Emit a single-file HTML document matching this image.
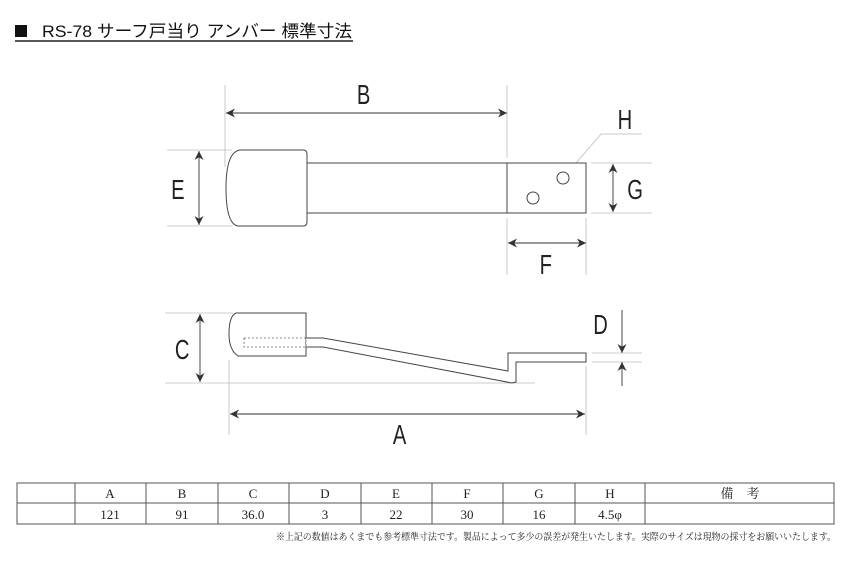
<!DOCTYPE html>
<html><head><meta charset="utf-8"><style>
html,body{margin:0;padding:0;background:#fff;width:850px;height:567px;overflow:hidden}
</style></head><body>
<svg width="850" height="567" viewBox="0 0 850 567" xmlns="http://www.w3.org/2000/svg">
<defs>
<marker id="ar" viewBox="0 0 10 10" refX="10" refY="5" markerWidth="9" markerHeight="9" orient="auto-start-reverse" markerUnits="userSpaceOnUse">
<path d="M0,0 L10,5 L0,10 L3,5 Z" fill="#333"/></marker>
</defs>
<rect x="15" y="25" width="12" height="12" fill="#111"/>
<text x="42" y="37" textLength="310" lengthAdjust="spacingAndGlyphs" font-family="'Liberation Sans','Noto Sans CJK JP',sans-serif" font-size="17" fill="#111">RS-78 サーフ戸当り アンバー 標準寸法</text>
<line x1="15" y1="41" x2="353" y2="41" stroke="#222" stroke-width="1.5"/>
<g stroke="#bbb" stroke-width="0.8" fill="none">
<line x1="225" y1="85" x2="225" y2="167"/><line x1="507" y1="85" x2="507" y2="158"/>
<line x1="167" y1="150" x2="232" y2="150"/><line x1="167" y1="226" x2="232" y2="226"/>
<line x1="591" y1="163" x2="652" y2="163"/><line x1="591" y1="213" x2="652" y2="213"/>
<line x1="507" y1="218" x2="507" y2="275"/><line x1="586" y1="218" x2="586" y2="275"/>
<polyline points="563,178 601,134 642,134"/>
<line x1="165" y1="313" x2="233" y2="313"/><line x1="165" y1="383" x2="535" y2="383"/>
<line x1="229" y1="360" x2="229" y2="435"/><line x1="586" y1="366" x2="586" y2="435"/>
<line x1="592" y1="353" x2="642" y2="353"/><line x1="592" y1="362" x2="642" y2="362"/>
</g>
<g stroke="#333" stroke-width="0.9" fill="none">
<line x1="226" y1="113" x2="507" y2="113" marker-start="url(#ar)" marker-end="url(#ar)"/>
<line x1="199" y1="151" x2="199" y2="225" marker-start="url(#ar)" marker-end="url(#ar)"/>
<line x1="613" y1="164" x2="613" y2="212" marker-start="url(#ar)" marker-end="url(#ar)"/>
<line x1="508" y1="243" x2="586" y2="243" marker-start="url(#ar)" marker-end="url(#ar)"/>
<line x1="200" y1="314" x2="200" y2="382" marker-start="url(#ar)" marker-end="url(#ar)"/>
<line x1="230" y1="414" x2="585" y2="414" marker-start="url(#ar)" marker-end="url(#ar)"/>
<line x1="622" y1="310" x2="622" y2="353" marker-end="url(#ar)"/>
<line x1="622" y1="386" x2="622" y2="362" marker-end="url(#ar)"/>
</g>
<g stroke="#444" stroke-width="1" fill="#fff">
<path d="M240,150 L303,150 Q307,150 307,154 L307,222 Q307,226 303,226 L238,226 Q226,224 226,188 Q226,152 240,150 Z"/>
<rect x="307" y="163" width="200" height="50"/>
<rect x="507" y="163" width="79" height="50"/>
<circle cx="563" cy="178" r="6"/><circle cx="533" cy="198" r="6"/>
<path d="M236,313 L306,313 L306,356 L238,356 Q229,350 229,334 Q229,316 236,313 Z"/>
<path d="M306,338 L323,338 L508,371 L508,353 L586,353 L586,362 L516,362 L516,382 L512,383 L323,347 L306,347" />
</g>
<rect x="244" y="338" width="62" height="9" fill="none" stroke="#666" stroke-width="0.8" stroke-dasharray="2,2"/>
<g font-family="'Liberation Sans',sans-serif" font-size="28" fill="#222" text-anchor="middle" transform="scale(0.72,1)">
<text x="505" y="104">B</text><text x="247" y="199">E</text><text x="868" y="129">H</text>
<text x="882" y="199">G</text><text x="758" y="274">F</text><text x="253" y="359">C</text>
<text x="834" y="334">D</text><text x="555" y="444">A</text>
</g>
<g stroke="#555" stroke-width="1" fill="none">
<rect x="17" y="483" width="817" height="41"/>
<line x1="17" y1="503" x2="834" y2="503"/>
<line x1="75" y1="483" x2="75" y2="524"/><line x1="146" y1="483" x2="146" y2="524"/>
<line x1="218" y1="483" x2="218" y2="524"/><line x1="289" y1="483" x2="289" y2="524"/>
<line x1="361" y1="483" x2="361" y2="524"/><line x1="432" y1="483" x2="432" y2="524"/>
<line x1="503" y1="483" x2="503" y2="524"/><line x1="575" y1="483" x2="575" y2="524"/>
<line x1="645" y1="483" x2="645" y2="524"/>
</g>
<g font-family="'Liberation Serif','Noto Serif CJK SC',serif" font-size="13" fill="#222" text-anchor="middle">
<text x="110" y="498">A</text><text x="182" y="498">B</text><text x="253" y="498">C</text><text x="325" y="498">D</text>
<text x="396" y="498">E</text><text x="467" y="498">F</text><text x="539" y="498">G</text><text x="610" y="498">H</text>
<text x="740" y="498">備　考</text>
<text x="110" y="519">121</text><text x="182" y="519">91</text><text x="253" y="519">36.0</text><text x="325" y="519">3</text>
<text x="396" y="519">22</text><text x="467" y="519">30</text><text x="539" y="519">16</text><text x="610" y="519">4.5φ</text>
</g>
<text x="276" y="540" textLength="560" lengthAdjust="spacingAndGlyphs" font-family="'Liberation Serif','Noto Serif CJK SC',serif" font-size="9.4" fill="#222">※上記の数値はあくまでも参考標準寸法です。製品によって多少の誤差が発生いたします。実際のサイズは現物の採寸をお願いいたします。</text>
</svg>
</body></html>
